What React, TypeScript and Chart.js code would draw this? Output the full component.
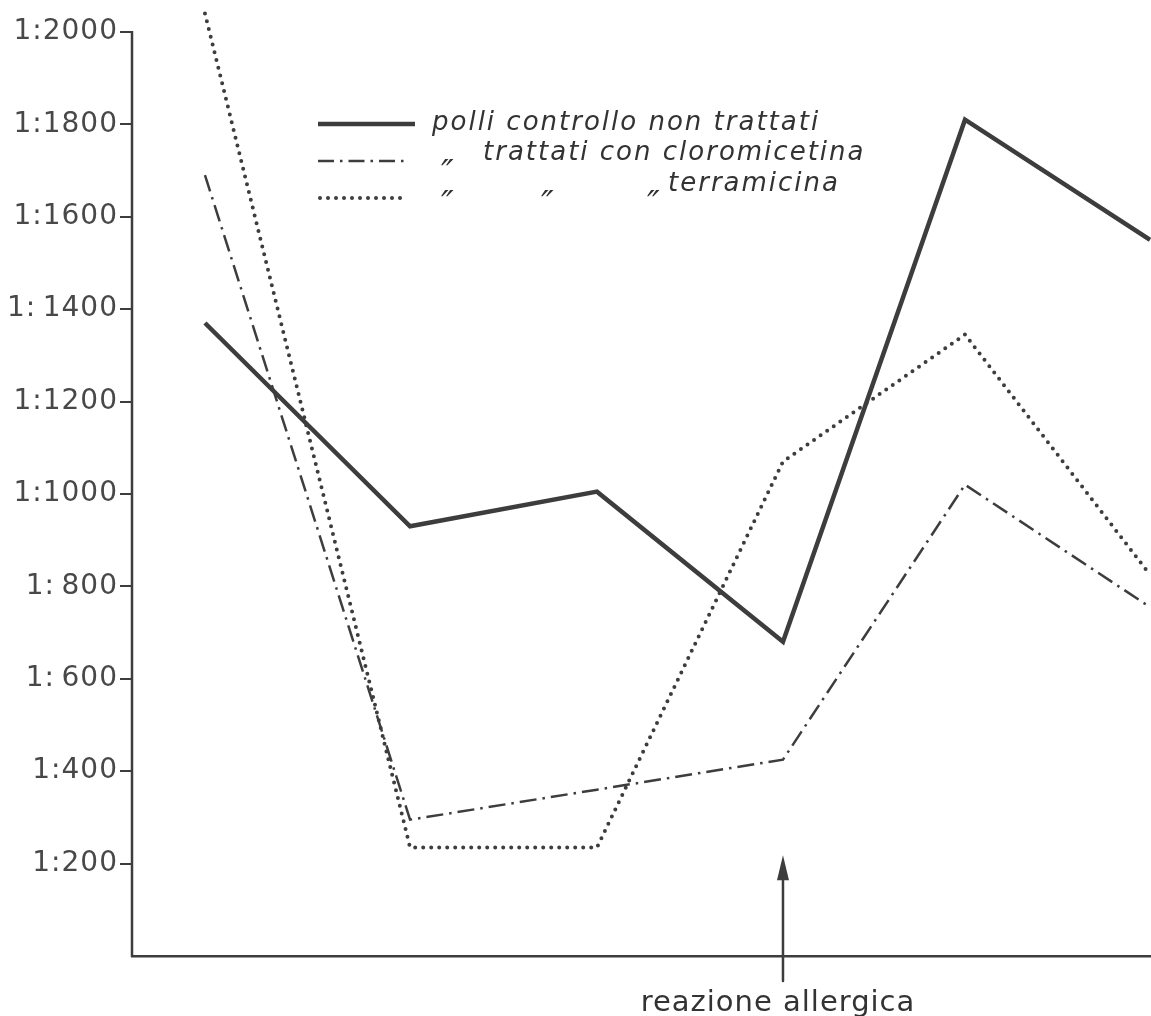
import React, { useEffect, useRef } from "react";
import { Chart, registerables } from "chart.js";

Chart.register(...registerables);

// Sampling times (horizontal position of each observation)
const sampleTimes = [1, 2.085, 3.074, 4.058, 5.021, 6];
// Agglutination titres (1:x)
const controllo = [1370, 930, 1005, 680, 1810, 1550];
const cloromicetina = [1690, 295, 360, 425, 1020, 755];
const terramicina = [2040, 235, 235, 1070, 1345, 825];
const yTickValues = [200, 400, 600, 800, 1000, 1200, 1400, 1600, 1800, 2000];
const yTickLabels = ["1:200", "1:400", "1:\u2009600", "1:\u2009800", "1:1000", "1:1200", "1:\u20091400", "1:1600", "1:1800", "1:2000"];
const legendTexts = ["polli controllo non trattati", "trattati con cloromicetina", "terramicina"];
const dittoMark = "\u2033";
const allergyTime = sampleTimes[3];
const allergyLabel = "reazione allergica";

const INK = "#3d3d3d";

const overlayPlugin = {
  id: "overlay",
  beforeDraw(chart: any) {
    (chart.ctx as any).letterSpacing = "1px";
  },
  beforeDatasetsDraw(chart: any) {
    (chart.ctx as any).letterSpacing = "0px";
  },
  afterDraw(chart: any) {
    const ctx = chart.ctx as any;
    const xs = chart.scales.x;
    const ys = chart.scales.y;
    ctx.save();
    // y axis line (from top tick down to the base line)
    ctx.strokeStyle = INK;
    ctx.lineWidth = 2.5;
    ctx.beginPath();
    ctx.moveTo(xs.left, ys.getPixelForValue(yTickValues[yTickValues.length - 1]) - 1);
    ctx.lineTo(xs.left, ys.getPixelForValue(0) + 1);
    ctx.stroke();

    // legend samples
    ctx.lineCap = "butt";
    ctx.lineWidth = 4.5;
    ctx.beginPath();
    ctx.moveTo(318, 124);
    ctx.lineTo(415, 124);
    ctx.stroke();
    ctx.lineWidth = 2.5;
    ctx.setLineDash([16, 6, 2.5, 6]);
    ctx.beginPath();
    ctx.moveTo(318, 161);
    ctx.lineTo(405, 161);
    ctx.stroke();
    ctx.lineWidth = 4;
    ctx.lineCap = "round";
    ctx.setLineDash([0, 8]);
    ctx.beginPath();
    ctx.moveTo(320, 198);
    ctx.lineTo(405, 198);
    ctx.stroke();
    ctx.setLineDash([]);

    // legend texts
    ctx.fillStyle = "#333";
    ctx.font = "italic 26px 'DejaVu Sans'";
    ctx.letterSpacing = "2px";
    ctx.textBaseline = "alphabetic";
    ctx.textAlign = "left";
    ctx.fillText(legendTexts[0], 432, 130);
    ctx.fillText(legendTexts[1], 483, 160);
    ctx.fillText(legendTexts[2], 668, 191);
    ctx.letterSpacing = "0px";
    ctx.font = "italic 34px 'DejaVu Sans'";
    ctx.fillText(dittoMark, 441, 184);
    ctx.fillText(dittoMark, 441, 215);
    ctx.fillText(dittoMark, 541, 215);
    ctx.fillText(dittoMark, 647, 215);

    // allergic reaction arrow
    const ax = xs.getPixelForValue(allergyTime);
    const tipY = ys.getPixelForValue(218);
    ctx.fillStyle = INK;
    ctx.lineWidth = 2.5;
    ctx.beginPath();
    ctx.moveTo(ax, tipY + 20);
    ctx.lineTo(ax, ys.getPixelForValue(0) + 25);
    ctx.stroke();
    ctx.beginPath();
    ctx.moveTo(ax, tipY);
    ctx.lineTo(ax - 6, tipY + 25);
    ctx.lineTo(ax + 6, tipY + 25);
    ctx.closePath();
    ctx.fill();

    ctx.fillStyle = "#333";
    ctx.font = "29px 'DejaVu Sans'";
    ctx.letterSpacing = "1px";
    ctx.textAlign = "center";
    ctx.fillText(allergyLabel, ax - 5, 1011);
    ctx.letterSpacing = "0px";
    ctx.restore();
  },
};

export default function App() {
  const ref = useRef<HTMLCanvasElement | null>(null);
  useEffect(() => {
    document.body.style.margin = "0";
    const pts = (vals: number[]) => vals.map((v, i) => ({ x: sampleTimes[i], y: v }));
    const chart = new Chart(ref.current as HTMLCanvasElement, {
      type: "line",
      data: {
        datasets: [
          {
            label: legendTexts[0],
            data: pts(controllo),
            borderColor: INK,
            borderWidth: 4.5,
            pointRadius: 0,
            tension: 0,
            borderJoinStyle: "miter",
          },
          {
            label: legendTexts[1],
            data: pts(cloromicetina),
            borderColor: INK,
            borderWidth: 2.5,
            borderDash: [17, 6, 2.5, 6],
            pointRadius: 0,
            tension: 0,
          },
          {
            label: legendTexts[2],
            data: pts(terramicina),
            borderColor: INK,
            borderWidth: 4,
            borderDash: [0, 8],
            borderCapStyle: "round",
            pointRadius: 0,
            tension: 0,
          },
        ],
      },
      options: {
        animation: false,
        responsive: false,
        devicePixelRatio: 1,
        layout: { padding: 0 },
        plugins: { legend: { display: false }, tooltip: { enabled: false } },
        scales: {
          x: {
            type: "linear",
            min: 0.614,
            max: 6.005,
            grid: { display: false },
            ticks: { display: false },
            border: { display: true, color: INK, width: 2.5 },
            afterFit(scale: any) {
              scale.height = 60;
              scale.paddingLeft = 0;
              scale.paddingRight = 0;
            },
          },
          y: {
            type: "linear",
            min: 0,
            max: 2069,
            afterBuildTicks(scale: any) {
              scale.ticks = yTickValues.map((v) => ({ value: v }));
            },
            afterFit(scale: any) {
              scale.width = 132;
              scale.paddingTop = 0;
              scale.paddingBottom = 0;
            },
            grid: {
              display: true,
              drawOnChartArea: false,
              drawTicks: true,
              tickLength: 12,
              color: INK,
              lineWidth: 2,
            },
            border: { display: false },
            ticks: {
              padding: 2,
              color: "#484848",
              font: { family: "'DejaVu Sans'", size: 28 },
              callback: (v: any) => {
                const i = yTickValues.indexOf(Number(v));
                return i >= 0 ? yTickLabels[i] : "";
              },
            },
          },
        },
      },
      plugins: [overlayPlugin],
    });
    return () => chart.destroy();
  }, []);
  return (
    <div style={{ position: "absolute", left: 0, top: 0, width: 1151, height: 1016, background: "#fff" }}>
      <canvas ref={ref} width={1151} height={1016} style={{ width: 1151, height: 1016 }} />
    </div>
  );
}
